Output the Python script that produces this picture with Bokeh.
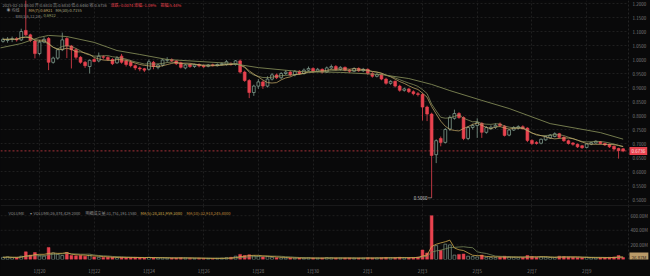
import numpy as np
import pandas as pd
from bokeh.plotting import figure
from bokeh.layouts import column
from bokeh.models import Range1d, FixedTicker, Span, Label, ColumnDataSource
from bokeh.core.properties import value
from bokeh.embed import file_html
from bokeh.resources import INLINE

# ---------------- data (4h candles, 2025-01-18 16:00 .. 2025-02-10 08:00) ----------------
opens = [1.065, 1.068, 1.072, 1.074, 1.070, 1.104, 1.088, 1.066, 1.021, 1.062,
         1.075, 0.990, 1.005, 1.035, 1.075, 1.048, 1.035, 1.008, 0.990, 0.975,
         1.000, 0.995, 1.010, 1.007, 1.000, 0.988, 1.012, 0.995, 0.990, 0.978,
         0.970, 0.967, 0.965, 0.990, 0.972, 0.980, 0.997, 1.000, 0.995, 0.988,
         0.970, 0.982, 0.975, 0.982, 0.978, 0.976, 0.981, 0.978, 0.982, 0.982,
         0.985, 0.982, 0.995, 0.955, 0.925, 0.882, 0.905, 0.920, 0.905, 0.930,
         0.945, 0.935, 0.950, 0.955, 0.945, 0.958, 0.950, 0.962, 0.968, 0.958,
         0.965, 0.955, 0.970, 0.975, 0.965, 0.972, 0.962, 0.958, 0.968, 0.960,
         0.965, 0.950, 0.940, 0.946, 0.930, 0.915, 0.922, 0.905, 0.890, 0.895,
         0.885, 0.878, 0.875, 0.830, 0.805, 0.660, 0.718, 0.704, 0.752, 0.790,
         0.807, 0.793, 0.718, 0.757, 0.764, 0.772, 0.740, 0.753, 0.758, 0.770,
         0.762, 0.730, 0.748, 0.755, 0.760, 0.755, 0.711, 0.704, 0.701, 0.713,
         0.720, 0.725, 0.735, 0.722, 0.710, 0.702, 0.697, 0.692, 0.686, 0.698,
         0.702, 0.706, 0.700, 0.696, 0.690, 0.682, 0.681]
highs = [1.078, 1.080, 1.082, 1.080, 1.110, 1.215, 1.092, 1.070, 1.070, 1.080,
         1.080, 1.010, 1.040, 1.096, 1.080, 1.052, 1.040, 1.012, 0.995, 1.000,
         1.005, 1.025, 1.015, 1.012, 1.005, 1.012, 1.020, 1.000, 0.998, 0.982,
         0.975, 0.970, 1.000, 0.995, 0.985, 1.002, 1.008, 1.004, 0.998, 0.992,
         0.985, 0.986, 0.985, 0.986, 0.982, 0.984, 0.985, 0.986, 0.990, 0.998,
         0.990, 0.998, 1.000, 0.960, 0.930, 0.910, 0.930, 0.925, 0.940, 0.952,
         0.950, 0.955, 0.962, 0.960, 0.962, 0.962, 0.968, 0.975, 0.972, 0.970,
         0.968, 0.975, 0.982, 0.980, 0.976, 0.975, 0.966, 0.972, 0.972, 0.970,
         0.968, 0.955, 0.952, 0.950, 0.935, 0.926, 0.925, 0.910, 0.900, 0.898,
         0.890, 0.884, 0.880, 0.835, 0.810, 0.715, 0.725, 0.755, 0.800, 0.821,
         0.812, 0.797, 0.762, 0.770, 0.790, 0.776, 0.762, 0.765, 0.772, 0.775,
         0.766, 0.752, 0.762, 0.765, 0.765, 0.758, 0.715, 0.708, 0.718, 0.728,
         0.734, 0.740, 0.738, 0.726, 0.714, 0.705, 0.700, 0.695, 0.701, 0.706,
         0.711, 0.709, 0.703, 0.699, 0.693, 0.685, 0.683]
lows = [1.060, 1.060, 1.062, 1.064, 1.066, 1.084, 1.062, 1.004, 1.015, 1.058,
        0.962, 0.985, 1.000, 1.030, 1.005, 0.968, 1.000, 0.985, 0.970, 0.950,
        0.990, 0.990, 1.000, 0.995, 0.980, 0.985, 0.985, 0.975, 0.972, 0.962,
        0.958, 0.955, 0.960, 0.965, 0.965, 0.975, 0.990, 0.990, 0.980, 0.968,
        0.965, 0.970, 0.970, 0.972, 0.970, 0.972, 0.975, 0.975, 0.978, 0.978,
        0.978, 0.978, 0.950, 0.920, 0.862, 0.870, 0.895, 0.895, 0.900, 0.925,
        0.930, 0.930, 0.945, 0.940, 0.940, 0.945, 0.946, 0.958, 0.952, 0.954,
        0.950, 0.952, 0.965, 0.960, 0.960, 0.958, 0.952, 0.955, 0.956, 0.955,
        0.945, 0.935, 0.936, 0.926, 0.910, 0.910, 0.900, 0.885, 0.885, 0.880,
        0.872, 0.868, 0.782, 0.780, 0.506, 0.630, 0.690, 0.700, 0.745, 0.785,
        0.788, 0.712, 0.712, 0.750, 0.720, 0.720, 0.735, 0.748, 0.752, 0.760,
        0.725, 0.726, 0.745, 0.750, 0.750, 0.705, 0.695, 0.696, 0.697, 0.710,
        0.716, 0.722, 0.718, 0.706, 0.696, 0.692, 0.684, 0.681, 0.683, 0.694,
        0.699, 0.697, 0.691, 0.684, 0.676, 0.646, 0.669]
closes = [1.072, 1.072, 1.074, 1.070, 1.100, 1.088, 1.068, 1.021, 1.062, 1.072,
          0.990, 1.005, 1.035, 1.070, 1.048, 1.035, 1.008, 0.990, 0.978, 0.997,
          0.993, 1.012, 1.008, 1.000, 0.985, 1.005, 0.990, 0.982, 0.978, 0.970,
          0.966, 0.962, 0.992, 0.975, 0.980, 0.998, 1.000, 0.995, 0.985, 0.972,
          0.980, 0.975, 0.981, 0.977, 0.974, 0.980, 0.978, 0.982, 0.985, 0.992,
          0.982, 0.995, 0.955, 0.925, 0.882, 0.905, 0.920, 0.905, 0.930, 0.945,
          0.935, 0.950, 0.955, 0.945, 0.958, 0.950, 0.962, 0.968, 0.958, 0.965,
          0.955, 0.970, 0.975, 0.965, 0.972, 0.962, 0.958, 0.968, 0.960, 0.965,
          0.950, 0.940, 0.946, 0.930, 0.915, 0.922, 0.905, 0.890, 0.895, 0.885,
          0.878, 0.875, 0.830, 0.805, 0.657, 0.710, 0.704, 0.750, 0.793, 0.807,
          0.793, 0.718, 0.757, 0.764, 0.775, 0.740, 0.757, 0.758, 0.765, 0.764,
          0.729, 0.748, 0.757, 0.760, 0.753, 0.711, 0.700, 0.700, 0.715, 0.725,
          0.730, 0.735, 0.722, 0.710, 0.700, 0.697, 0.688, 0.685, 0.698, 0.703,
          0.708, 0.700, 0.695, 0.688, 0.680, 0.675, 0.6736]
volumes_m = [30, 35, 25, 28, 45, 105, 60, 95, 50, 45,
             165, 90, 70, 55, 95, 55, 50, 55, 45, 60,
             35, 30, 28, 30, 32, 25, 30, 25, 28, 30,
             25, 22, 30, 25, 20, 22, 18, 20, 22, 25,
             20, 18, 15, 18, 16, 15, 14, 15, 18, 25,
             30, 45, 70, 55, 65, 50, 45, 35, 40, 30,
             25, 22, 20, 22, 18, 20, 18, 22, 20, 18,
             20, 25, 22, 20, 18, 20, 22, 18, 20, 18,
             25, 22, 20, 25, 28, 22, 25, 30, 22, 25,
             28, 35, 130, 90, 600, 190, 125, 210, 200, 60,
             70, 75, 45, 40, 35, 60, 30, 28, 25, 30,
             45, 35, 30, 25, 28, 55, 40, 30, 35, 30,
             28, 25, 45, 40, 35, 30, 28, 25, 30, 22,
             20, 25, 28, 30, 35, 55, 26.87]
# MA(30) line (candle index, value)
ma30_idx = [-1, 4, 8, 10, 14, 20, 25, 30, 36, 43, 50, 56, 65, 74, 83, 89, 94, 98, 105, 111, 120, 131, 136]
ma30_val = [1.040, 1.057, 1.079, 1.086, 1.082, 1.061, 1.032, 1.018, 1.000, 0.993, 0.986, 0.971,
            0.957, 0.954, 0.946, 0.932, 0.911, 0.889, 0.854, 0.825, 0.771, 0.739, 0.7155]
tick_idx = [8, 20, 32, 44, 56, 68, 80, 92, 104, 116, 128]
tick_labels = ["1月20", "1月22", "1月24", "1月26", "1月28", "1月30", "2月1", "2月3", "2月5", "2月7", "2月9"]
price_ticks = [0.50, 0.55, 0.60, 0.65, 0.70, 0.75, 0.80, 0.85, 0.90, 0.95, 1.00, 1.05, 1.10, 1.15, 1.20]
price_tick_labels = ["0.5000", "0.5500", "0.6000", "0.6500", "0.7000", "0.7500", "0.8000", "0.8500",
                     "0.9000", "0.9500", "1.0000", "1.0500", "1.1000", "1.1500", "1.2000"]
vol_ticks = [200e6, 400e6, 600e6]
vol_tick_labels = ["200.00M", "400.00M", "600.00M"]
last_price = 0.6736
low_price = 0.5060

# ---------------- styling ----------------
BG = "#09090a"
UP = "#7f9a8c"
DN = "#e8434f"
GRID = "#1f1f1f"
AX = "#7a7a7a"
C_MA7 = "#c8ad6a"
C_MA30 = "#7f8755"
C_BBI = "#9aa36a"
C_VMA5 = "#d0ab4c"
C_VMA10 = "#78895a"
FONT = "Noto Sans CJK SC"
FS = "4.5px"

n = len(opens)
df = pd.DataFrame(dict(x=np.arange(n), o=opens, h=highs, l=lows, c=closes,
                       v=np.array(volumes_m) * 1e6))
df["up"] = df.c >= df.o
df["top"] = df[["o", "c"]].max(axis=1)
df["bot"] = df[["o", "c"]].min(axis=1)
df["ma7"] = df.c.rolling(7, min_periods=1).mean()
df["bbi"] = (df.c.rolling(3, min_periods=1).mean() + df.c.rolling(6, min_periods=1).mean()
             + df.c.rolling(12, min_periods=1).mean() + df.c.rolling(24, min_periods=1).mean()) / 4
df["vma5"] = df.v.rolling(5, min_periods=1).mean()
df["vma10"] = df.v.rolling(10, min_periods=1).mean()
up_src = ColumnDataSource(df[df.up])
dn_src = ColumnDataSource(df[~df.up])
all_src = ColumnDataSource(df)

X0, X1 = -0.55, 142.0      # full canvas width
AXX = 137.17               # where the price scale column begins
xr = Range1d(X0, X1)
W = 0.62

# ---------------- price panel ----------------
ybot, ytop = 1.2 - 202 / 280, 1.2 + 3 / 280
p = figure(width=650, height=205, x_range=xr, y_range=Range1d(ybot, ytop),
           output_backend="svg", toolbar_location=None, background_fill_color=BG,
           border_fill_color=BG, min_border=0, x_axis_location=None, y_axis_location=None)
p.outline_line_color = None
p.ygrid.visible = False
p.xgrid.ticker = FixedTicker(ticks=tick_idx)
p.xgrid.grid_line_color = GRID
p.xgrid.grid_line_dash = "2 2"
p.segment(x0=[X0] * len(price_ticks), y0=price_ticks, x1=[AXX] * len(price_ticks), y1=price_ticks,
          color=GRID, line_dash="2 2", line_width=1)
p.add_layout(Span(location=AXX, dimension="height", line_color="#262626", line_dash="2 2", line_width=1))
p.text(x=[AXX] * len(price_ticks), y=price_ticks, text=price_tick_labels, x_offset=4,
       text_font=value(FONT), text_font_size=FS, text_color=AX, text_baseline="middle")

p.segment("x", "h", "x", "l", source=up_src, color=UP, line_width=0.8)
p.segment("x", "h", "x", "l", source=dn_src, color=DN, line_width=0.8)
p.vbar(x="x", width=W, top="top", bottom="bot", source=up_src, fill_color=BG, line_color=UP, line_width=0.8)
p.vbar(x="x", width=W, top="top", bottom="bot", source=dn_src, fill_color=DN, line_color=DN, line_width=0.6)

p.line("x", "bbi", source=all_src, color=C_BBI, line_width=0.8, alpha=0.85)
p.line("x", "ma7", source=all_src, color=C_MA7, line_width=0.8, alpha=0.9)
p.line(ma30_idx, ma30_val, color=C_MA30, line_width=0.9)

p.segment(x0=[X0], y0=[last_price], x1=[AXX], y1=[last_price], color=DN, line_dash="2 2", line_width=0.7)
p.add_layout(Label(x=AXX, y=last_price, x_offset=1, text=f"{last_price:.4f}", text_font_size=FS,
                   text_font=FONT, text_color="#f6e0e0", text_baseline="middle",
                   background_fill_color=DN, padding=2))
low_i = int(np.argmin(lows))
p.segment([low_i - 0.8], [low_price], [low_i], [low_price], color="#bbbbbb", line_width=0.6)
p.add_layout(Label(x=low_i - 0.9, y=low_price, text=f"{low_price:.4f}", text_font_size=FS,
                   text_font=FONT, text_color="#cfcfcf", text_align="right", text_baseline="middle"))


def hdr(fig, x_px, y_px_from_top, text, color, ytop_):
    fig.add_layout(Label(x=X0, x_offset=x_px, y=ytop_, y_offset=-y_px_from_top, text=text,
                         text_font_size="4px", text_font=FONT, text_color=color,
                         text_baseline="middle"))


hdr(p, 2, 4, "2025-02-10 08:00  开:0.6810  高:0.6830  低:0.6460  收:0.6736", "#8c8c8c", ytop)
hdr(p, 110, 4, "涨跌:-0.0074  涨幅:-1.09%", DN, ytop)
hdr(p, 160, 4, "振幅:5.44%", DN, ytop)
hdr(p, 6, 9.5, "◉ 均线", "#8c8c8c", ytop)
hdr(p, 28, 9.5, "MA(7):0.6921", C_MA7, ytop)
hdr(p, 55, 9.5, "MA(30):0.7155", "#a9ad86", ytop)
hdr(p, 15, 15, "BBI(3,6,12,24):", "#8c8c8c", ytop)
hdr(p, 43, 15, "0.6922", C_BBI, ytop)

# ---------------- volume panel ----------------
vtop = 61 / 16.5 * 200e6
v = figure(width=650, height=71, x_range=xr, y_range=Range1d(0, vtop),
           output_backend="svg", toolbar_location=None, background_fill_color=BG,
           border_fill_color=BG, min_border=0, min_border_bottom=10, y_axis_location=None)
v.outline_line_color = None
v.ygrid.visible = False
v.xaxis.ticker = FixedTicker(ticks=tick_idx)
v.xaxis.major_label_overrides = dict(zip(tick_idx, tick_labels))
for ax in v.xaxis:
    ax.axis_line_color = None
    ax.major_tick_line_color = None
    ax.minor_tick_line_color = None
    ax.major_label_text_font_size = FS
    ax.major_label_text_color = AX
    ax.major_label_text_font = FONT
    ax.major_label_standoff = 2
v.xgrid.ticker = FixedTicker(ticks=tick_idx)
v.xgrid.grid_line_color = GRID
v.xgrid.grid_line_dash = "2 2"
v.segment(x0=[X0] * len(vol_ticks), y0=vol_ticks, x1=[AXX] * len(vol_ticks), y1=vol_ticks,
          color=GRID, line_dash="2 2", line_width=1)
v.add_layout(Span(location=AXX, dimension="height", line_color="#262626", line_dash="2 2", line_width=1))
v.add_layout(Span(location=vtop, dimension="width", line_color="#2a2a2a", line_width=1))
v.text(x=[AXX] * len(vol_ticks), y=vol_ticks, text=vol_tick_labels, x_offset=2,
       text_font=value(FONT), text_font_size=FS, text_color=AX, text_baseline="middle")

v.vbar(x="x", width=W, top="v", bottom=0, source=up_src, fill_color=BG, line_color=UP, line_width=0.7)
v.vbar(x="x", width=W, top="v", bottom=0, source=dn_src, fill_color=DN, line_color=DN, line_width=0.5)
v.line("x", "vma10", source=all_src, color=C_VMA10, line_width=0.8)
v.line("x", "vma5", source=all_src, color=C_VMA5, line_width=0.8)
v.add_layout(Label(x=AXX, y=volumes_m[-1] * 1e6, x_offset=1, text=f"{volumes_m[-1]:.2f}M",
                   text_font_size=FS, text_font=FONT, text_color="#2a2115",
                   text_baseline="middle", background_fill_color="#b99a68", padding=2))

hdr(v, 8, 7, "VOLUME", "#8c8c8c", vtop)
hdr(v, 29, 7, "▾", "#8c8c8c", vtop)
hdr(v, 33, 7, "VOLUME:26,874,429.2000", "#8c8c8c", vtop)
hdr(v, 85, 7, "明细成交量:31,751,191.1580", "#8c8c8c", vtop)
hdr(v, 140, 7, "MA(5):28,381,959.3080", C_VMA5, vtop)
hdr(v, 186, 7, "MA(10):32,918,245.4000", "#c08a3a", vtop)

layout = column(p, v, spacing=0, background=BG)
open("out.html", "w").write(file_html(layout, INLINE))
